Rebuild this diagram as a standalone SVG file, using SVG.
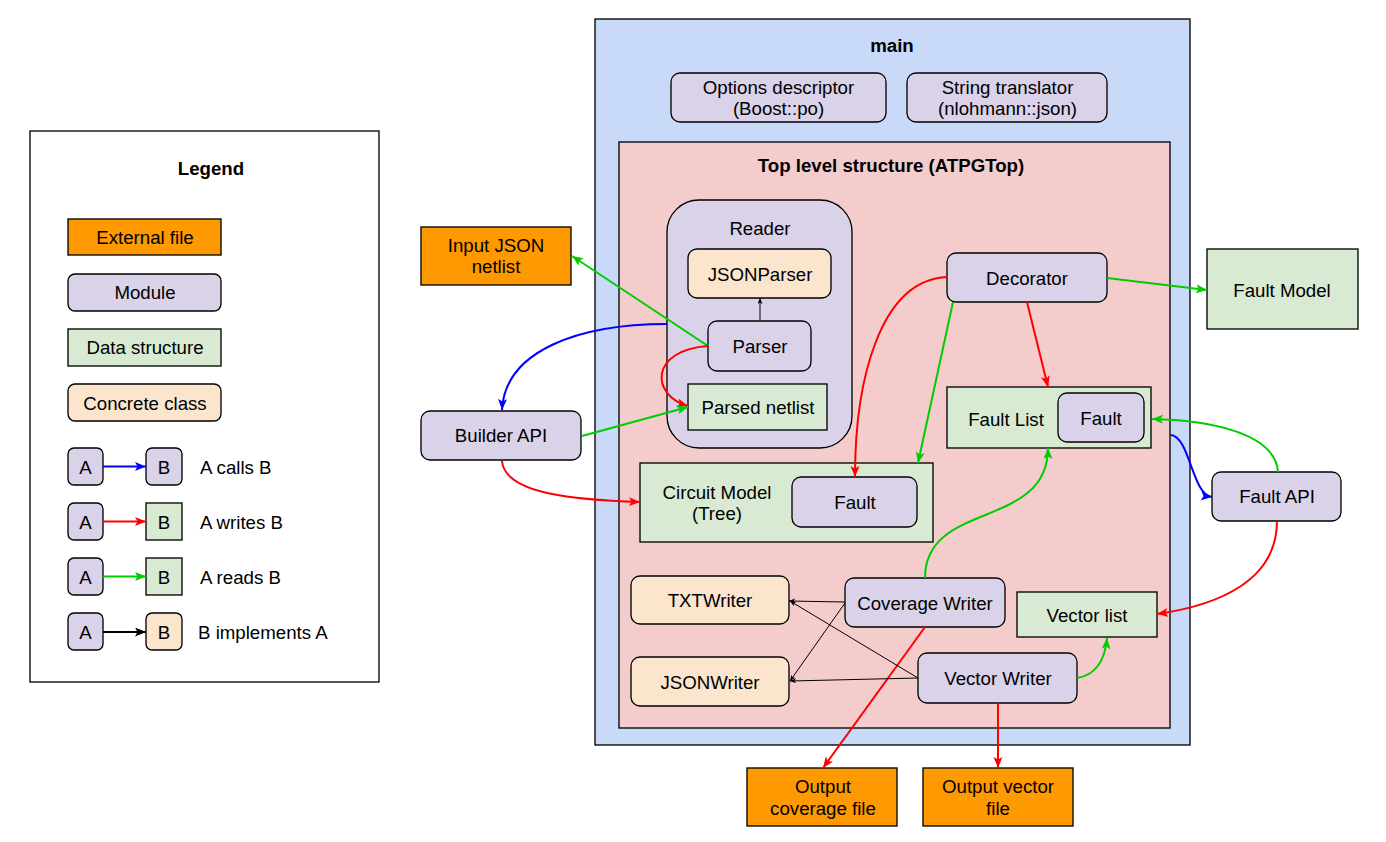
<svg xmlns="http://www.w3.org/2000/svg" width="1386" height="842" viewBox="0 0 1386 842">
<style>
text{font-family:"Liberation Sans",Arial,sans-serif;font-size:18.67px;fill:#000;text-anchor:middle}
.l{text-anchor:start}
.b{font-weight:bold}
rect{stroke:#000;stroke-width:1.33}
.bg{fill:#fff;stroke:none}
.ext{fill:#FF9900}
.mod{fill:#D9D2E9}
.ds{fill:#D9EAD3}
.cc{fill:#FCE5CD}
.main{fill:#C9DAF8}
.top{fill:#F4CCCC}
.c{fill:none;stroke-width:2}
.blue{stroke:#0000FF}
.red{stroke:#FF0000}
.green{stroke:#00CC00}
.blk{stroke:#000;stroke-width:1}
.blk2{stroke:#000;stroke-width:2}
</style>
<defs>
<marker id="ab" markerUnits="userSpaceOnUse" markerWidth="12" markerHeight="10" refX="11" refY="4.5" orient="auto"><path d="M0,0 L11,4.5 L0,9 L2.5,4.5 Z" fill="#0000FF"/></marker>
<marker id="ar" markerUnits="userSpaceOnUse" markerWidth="12" markerHeight="10" refX="11" refY="4.5" orient="auto"><path d="M0,0 L11,4.5 L0,9 L2.5,4.5 Z" fill="#FF0000"/></marker>
<marker id="ag" markerUnits="userSpaceOnUse" markerWidth="12" markerHeight="10" refX="11" refY="4.5" orient="auto"><path d="M0,0 L11,4.5 L0,9 L2.5,4.5 Z" fill="#00CC00"/></marker>
<marker id="ak" markerUnits="userSpaceOnUse" markerWidth="12" markerHeight="10" refX="11" refY="4.5" orient="auto"><path d="M0,0 L11,4.5 L0,9 L2.5,4.5 Z" fill="#000"/></marker>
<marker id="aks" markerUnits="userSpaceOnUse" markerWidth="8" markerHeight="6" refX="6" refY="2.5" orient="auto"><path d="M0,0 L6,2.5 L0,5 L1.5,2.5 Z" fill="#000"/></marker>
</defs>
<rect width="1386" height="842" class="bg"/>

<g id="legend">
<rect x="30" y="131" width="349" height="551" fill="#fff"/>
<text x="211" y="175" class="b">Legend</text>
<rect x="68" y="219" width="153" height="36" class="ext"/>
<text x="145" y="244">External file</text>
<rect x="68" y="274" width="153" height="37" rx="7" class="mod"/>
<text x="145" y="299">Module</text>
<rect x="68" y="329" width="153" height="37" class="ds"/>
<text x="145" y="354">Data structure</text>
<rect x="68" y="384" width="153" height="37" rx="7" class="cc"/>
<text x="145" y="410">Concrete class</text>
<rect x="68" y="448" width="35" height="37" rx="6" class="mod"/>
<text x="85.5" y="474">A</text>
<rect x="146" y="448" width="36" height="37" rx="6" class="mod"/>
<text x="164" y="474">B</text>
<text x="200" y="474" class="l">A calls B</text>
<rect x="68" y="503" width="35" height="37" rx="6" class="mod"/>
<text x="85.5" y="529">A</text>
<rect x="146" y="503" width="36" height="37" class="ds"/>
<text x="164" y="529">B</text>
<text x="200" y="529" class="l">A writes B</text>
<rect x="68" y="558" width="35" height="37" rx="6" class="mod"/>
<text x="85.5" y="584">A</text>
<rect x="146" y="558" width="36" height="37" class="ds"/>
<text x="164" y="584">B</text>
<text x="200" y="584" class="l">A reads B</text>
<rect x="68" y="613" width="35" height="37" rx="6" class="mod"/>
<text x="85.5" y="639">A</text>
<rect x="146" y="613" width="36" height="37" rx="6" class="cc"/>
<text x="164" y="639">B</text>
<text x="198" y="639" class="l">B implements A</text>
<path d="M103,466.5 L146,466.5" class="c blue" marker-end="url(#ab)"/>
<path d="M103,521.5 L146,521.5" class="c red" marker-end="url(#ar)"/>
<path d="M103,576.5 L146,576.5" class="c green" marker-end="url(#ag)"/>
<path d="M103,632 L146,632" class="c blk2" marker-end="url(#ak)"/>
</g>

<g id="main">
<rect x="595" y="19" width="595" height="726" class="main"/>
<text x="892" y="52" class="b">main</text>
</g>
<g id="options-descriptor">
<rect x="671" y="73" width="215" height="49" rx="9" class="mod"/>
<text x="778.5" y="94">Options descriptor</text>
<text x="778.5" y="115">(Boost::po)</text>
</g>
<g id="string-translator">
<rect x="907" y="73" width="200" height="49" rx="9" class="mod"/>
<text x="1007.5" y="94">String translator</text>
<text x="1007.5" y="115">(nlohmann::json)</text>
</g>
<g id="top-level">
<rect x="619" y="142" width="551" height="586" class="top"/>
<text x="891" y="172" class="b">Top level structure (ATPGTop)</text>
</g>
<g id="reader">
<rect x="667" y="200" width="185" height="248" rx="32" class="mod"/>
<text x="760" y="235">Reader</text>
</g>
<g id="jsonparser">
<rect x="688" y="249" width="143" height="49" rx="9" class="cc"/>
<text x="760" y="281">JSONParser</text>
</g>
<g id="parser">
<rect x="708" y="321" width="103" height="50" rx="9" class="mod"/>
<text x="760" y="353">Parser</text>
</g>
<g id="parsed-netlist">
<rect x="688" y="384" width="139" height="46" class="ds"/>
<text x="758" y="414">Parsed netlist</text>
</g>
<g id="input-json-netlist">
<rect x="421" y="227" width="150" height="58" class="ext"/>
<text x="496" y="252">Input JSON</text>
<text x="496" y="273">netlist</text>
</g>
<g id="builder-api">
<rect x="421" y="411" width="160" height="49" rx="9" class="mod"/>
<text x="501" y="442">Builder API</text>
</g>
<g id="decorator">
<rect x="947" y="253" width="160" height="49" rx="9" class="mod"/>
<text x="1027" y="285">Decorator</text>
</g>
<g id="fault-model">
<rect x="1207" y="249" width="151" height="80" class="ds"/>
<text x="1282" y="297">Fault Model</text>
</g>
<g id="fault-list">
<rect x="947" y="387" width="204" height="61" class="ds"/>
<text x="1006" y="426">Fault List</text>
</g>
<g id="fault-list-fault">
<rect x="1058" y="393" width="86" height="49" rx="9" class="mod"/>
<text x="1101" y="425">Fault</text>
</g>
<g id="fault-api">
<rect x="1212" y="472" width="129" height="49" rx="9" class="mod"/>
<text x="1277" y="503">Fault API</text>
</g>
<g id="circuit-model">
<rect x="640" y="463" width="293" height="79" class="ds"/>
<text x="717" y="499">Circuit Model</text>
<text x="717" y="520">(Tree)</text>
</g>
<g id="circuit-model-fault">
<rect x="792" y="477" width="125" height="50" rx="9" class="mod"/>
<text x="855" y="509">Fault</text>
</g>
<g id="txtwriter">
<rect x="631" y="576" width="158" height="48" rx="9" class="cc"/>
<text x="710" y="607">TXTWriter</text>
</g>
<g id="jsonwriter">
<rect x="631" y="657" width="158" height="49" rx="9" class="cc"/>
<text x="710" y="689">JSONWriter</text>
</g>
<g id="coverage-writer">
<rect x="845" y="578" width="160" height="49" rx="9" class="mod"/>
<text x="925" y="610">Coverage Writer</text>
</g>
<g id="vector-list">
<rect x="1017" y="592" width="140" height="45" class="ds"/>
<text x="1087" y="622">Vector list</text>
</g>
<g id="vector-writer">
<rect x="918" y="653" width="159" height="50" rx="9" class="mod"/>
<text x="998" y="685">Vector Writer</text>
</g>
<g id="output-coverage-file">
<rect x="747" y="768" width="150" height="58" class="ext"/>
<text x="823" y="793">Output</text>
<text x="823" y="815">coverage file</text>
</g>
<g id="output-vector-file">
<rect x="923" y="768" width="150" height="58" class="ext"/>
<text x="998" y="793">Output vector</text>
<text x="998" y="815">file</text>
</g>

<g id="connectors">
<path d="M708,346 L572,256" class="c green" marker-end="url(#ag)"/>
<path d="M760,321 L760,298" class="c blk" marker-end="url(#aks)"/>
<path d="M667,324 C580,324 505,350 502,410" class="c blue" marker-end="url(#ab)"/>
<path d="M708,346 C650,350 650,395 688,406" class="c red" marker-end="url(#ar)"/>
<path d="M582,436 L688,407" class="c green" marker-end="url(#ag)"/>
<path d="M502,461 C505,495 580,500 640,502" class="c red" marker-end="url(#ar)"/>
<path d="M947,277 C880,280 855,380 855,477" class="c red" marker-end="url(#ar)"/>
<path d="M953,302 L918,463" class="c green" marker-end="url(#ag)"/>
<path d="M1027,302 L1048,387" class="c red" marker-end="url(#ar)"/>
<path d="M1107,278 L1207,290" class="c green" marker-end="url(#ag)"/>
<path d="M1278,472 C1275,430 1200,420 1152,419" class="c green" marker-end="url(#ag)"/>
<path d="M1171,435 C1190,437 1192,495 1212,497" class="c blue" marker-end="url(#ab)"/>
<path d="M1277,521 C1277,580 1220,605 1157,614" class="c red" marker-end="url(#ar)"/>
<path d="M925,578 C925,500 1048,530 1048,448" class="c green" marker-end="url(#ag)"/>
<path d="M925,627 L823,768" class="c red" marker-end="url(#ar)"/>
<path d="M998,703 L998,768" class="c red" marker-end="url(#ar)"/>
<path d="M1077,678 C1096,675 1105,660 1107,638" class="c green" marker-end="url(#ag)"/>
<path d="M845,602 L789,601" class="c blk" marker-end="url(#aks)"/>
<path d="M845,603 L790,681" class="c blk" marker-end="url(#aks)"/>
<path d="M918,678 L790,601" class="c blk" marker-end="url(#aks)"/>
<path d="M918,678 L790,681" class="c blk" marker-end="url(#aks)"/>
</g>
</svg>
